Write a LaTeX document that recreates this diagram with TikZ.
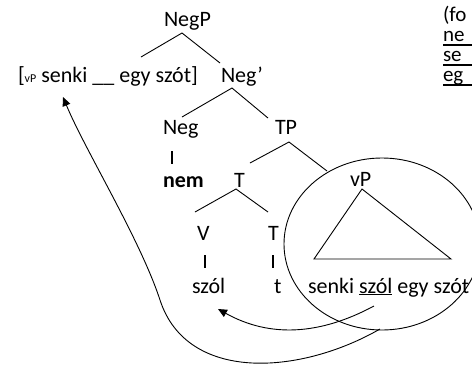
\documentclass[tikz,border=0pt]{standalone}
\usepackage{fontspec}
\setmainfont{Carlito}
\usetikzlibrary{arrows.meta,shapes.geometric}
\begin{document}
\begin{tikzpicture}[x=1pt,y=-1pt,
  lbl/.style={anchor=base west,inner sep=0pt,outer sep=0pt,font=\fontsize{22}{26}\selectfont},
  edge/.style={line width=0.9pt},
  bar/.style={line width=1.4pt},
  uline/.style={line width=1.2pt},
  mv/.style={line width=0.9pt,-{Triangle[length=9pt,width=8pt]}}]
\useasboundingbox (0,0) rectangle (472,365);
% labels
\node[lbl] (negp) at (164,26) {NegP};
\node[lbl] (vpbr) at (18,82) {[{\fontsize{12}{12}\selectfont vP} senki \_\_ egy szót]};
\node[lbl] (negbar) at (221,82) {Neg’};
\node[lbl] (neg) at (163,134) {Neg};
\node[lbl] (tp) at (275,134) {TP};
\node[lbl] (nem) at (163,187) {\bfseries nem};
\node[lbl] (tbar) at (234,187) {T};
\node[lbl] (vp) at (350,186) {vP};
\node[lbl] (v) at (197,240) {V};
\node[lbl] (t) at (268,240) {T};
\node[lbl] (szol) at (192,293) {szól};
\node[lbl] (tt) at (274,293) {t};
\node[lbl] (sent) at (308,293) {senki \underline{szól} egy szót};
% side text (cut off at the right edge)
\node[anchor=north west,inner sep=0pt,outer sep=0pt,align=left,
      font=\fontsize{21}{20}\selectfont] (side) at (443,6) {(fo\\ne\\se\\eg};
\coordinate (u2a) at (443,45); \coordinate (u2b) at (472,45);
\coordinate (u3a) at (443,65); \coordinate (u3b) at (472,65);
\coordinate (u4a) at (443,85); \coordinate (u4b) at (472,85);
\draw[uline] (u2a) -- (u2b);
\draw[uline] (u3a) -- (u3b);
\draw[uline] (u4a) -- (u4b);
% tree edges
\coordinate (a0) at (182,33); \coordinate (a1) at (141,57); \coordinate (a2) at (220,63);
\draw[edge] (a1) -- (a0) -- (a2);
\coordinate (b0) at (232,88); \coordinate (b1) at (182,117); \coordinate (b2) at (268,118);
\draw[edge] (b1) -- (b0) -- (b2);
\coordinate (c0) at (289,142); \coordinate (c1) at (250,163); \coordinate (c2) at (327,171);
\draw[edge] (c1) -- (c0) -- (c2);
\coordinate (d0) at (236,189); \coordinate (d1) at (195,212); \coordinate (d2) at (268,212);
\draw[edge] (d1) -- (d0) -- (d2);
% bars
\coordinate (e1) at (172,151); \coordinate (e2) at (172,164);
\draw[bar] (e1) -- (e2);
\coordinate (f1) at (205,255); \coordinate (f2) at (205,268);
\draw[bar] (f1) -- (f2);
\coordinate (g1) at (273,255); \coordinate (g2) at (273,268);
\draw[bar] (g1) -- (g2);
% triangle
\coordinate (tr0) at (362,189); \coordinate (tr1) at (314,259); \coordinate (tr2) at (451,259);
\draw[edge] (tr0) -- (tr1) -- (tr2) -- cycle;
% ellipse
\node[draw,line width=0.9pt,ellipse,minimum width=196pt,minimum height=172pt,inner sep=0pt] (circ) at (382,244) {};
% movement arrows
\coordinate (m1) at (374,306); \coordinate (m1e) at (218,309);
\draw[mv] (m1) .. controls (320,335) and (270,338) .. (m1e);
\coordinate (m2) at (380,329); \coordinate (m2e) at (63,97);
\draw[mv] (m2) .. controls (300,375) and (187,383) .. (160,300) .. controls (140,239) and (85,150) .. (m2e);
\end{tikzpicture}
\end{document}
